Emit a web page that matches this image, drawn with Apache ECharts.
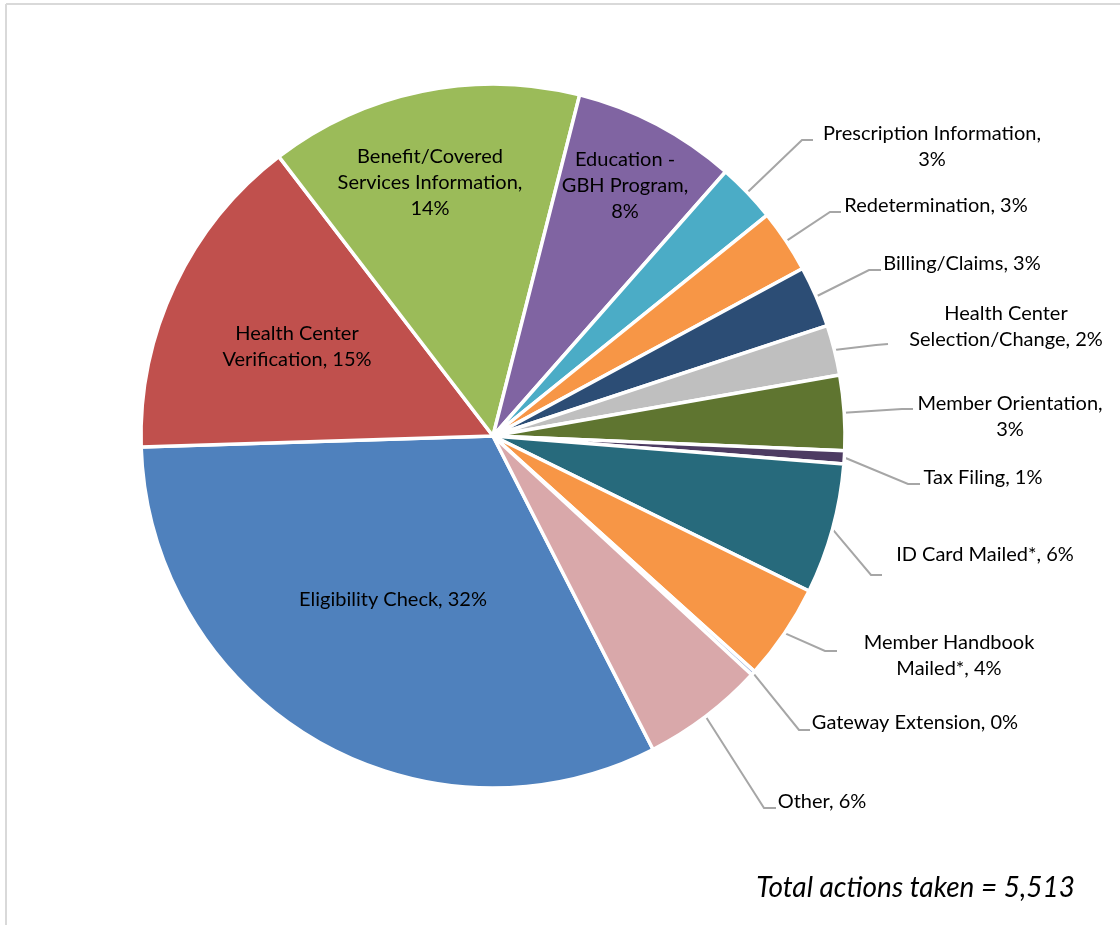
<!DOCTYPE html>
<html>
<head>
<meta charset="utf-8">
<script src="https://cdn.jsdelivr.net/npm/echarts@6/dist/echarts.min.js"></script>
<style>
html,body{margin:0;padding:0;background:#fff;}
#chart{width:1120px;height:925px;}
</style>
</head>
<body>
<div id="chart"></div>
<script>
// ---- data (clockwise order as drawn) ----
const categories = [
  'Eligibility Check',
  'Health Center Verification',
  'Benefit/Covered Services Information',
  'Education - GBH Program',
  'Prescription Information',
  'Redetermination',
  'Billing/Claims',
  'Health Center Selection/Change',
  'Member Orientation',
  'Tax Filing',
  'ID Card Mailed*',
  'Member Handbook Mailed*',
  'Gateway Extension',
  'Other'
];
const actionCounts = [1765, 832, 792, 415, 150, 160, 155, 127, 190, 33, 330, 243, 11, 310];
const totalLabelPrefix = 'Total actions taken = ';

// ---- styling / layout (not data) ----
const colors = ['#4F81BD','#C0504D','#9BBB59','#8064A2','#4BACC6','#F79646','#2C4D75',
  '#BFBFBF','#5F7530','#4D3B62','#276A7C','#F79646','#A7B9DD','#D9A8AA'];
// label text wrapping templates: {n}=name, {p}=percent
const labelWrap = [
  '{n}, {p}',
  'Health Center\nVerification, {p}',
  'Benefit/Covered\nServices Information,\n{p}',
  'Education -\nGBH Program,\n{p}',
  '{n},\n{p}',
  '{n}, {p}',
  '{n}, {p}',
  'Health Center\nSelection/Change, {p}',
  '{n},\n{p}',
  '{n}, {p}',
  '{n}, {p}',
  'Member Handbook\nMailed*, {p}',
  '{n}, {p}',
  '{n}, {p}'
];
const insideIdx = [0,1,2,3];
// label anchor (center of text block) and leader line elbow/end, in px
const labelPos = [
  {x:393, y:600},
  {x:297, y:347},
  {x:430, y:183},
  {x:625, y:186},
  {x:932, y:147, e:[802,140], f:[813,140]},
  {x:936, y:206, e:[830,212], f:[841,212]},
  {x:962, y:264, e:[869,270], f:[881,270]},
  {x:1006, y:327, e:[876,345], f:[888,344]},
  {x:1010, y:417, e:[902,409], f:[913,409]},
  {x:983, y:478, e:[908,484], f:[920,484]},
  {x:985, y:555, e:[871,575], f:[882,575]},
  {x:949, y:656, e:[825,651], f:[837,651]},
  {x:915, y:723, e:[799,730], f:[810,730]},
  {x:822, y:802, e:[764,808], f:[776,808]}
];

const total = actionCounts.reduce((a,b)=>a+b,0);
const FONT = 'Lato, "Liberation Sans", sans-serif';

const pieData = categories.map((name,i)=>({
  name: name,
  value: actionCounts[i],
  itemStyle: {color: colors[i]},
  labelLine: {show: insideIdx.indexOf(i) < 0}
}));

// start angle so that first slice begins where drawn (degrees, ECharts convention)
const startDeg = -62.95;

const chart = echarts.init(document.getElementById('chart'), null, {renderer:'canvas'});
chart.setOption({
  backgroundColor: '#ffffff',
  animation: false,
  series: [{
    type: 'pie',
    center: [493, 436],
    radius: [0, 352],
    startAngle: startDeg,
    clockwise: true,
    avoidLabelOverlap: false,
    data: pieData,
    itemStyle: {borderColor: '#ffffff', borderWidth: 3.5},
    label: {
      show: true,
      position: 'outside',
      fontFamily: FONT,
      fontSize: 20,
      lineHeight: 26,
      color: '#000000',
      align: 'center',
      formatter: function(p){
        const pct = Math.round(p.value / total * 100) + '%';
        return labelWrap[p.dataIndex].replace('{n}', p.name).replace('{p}', pct);
      }
    },
    labelLine: {
      show: true,
      length: 20,
      length2: 10,
      lineStyle: {color: '#A6A6A6', width: 2}
    },
    labelLayout: function(params){
      const i = params.dataIndex;
      const lp = labelPos[i];
      const res = {x: lp.x, y: lp.y, align: 'center', verticalAlign: 'middle'};
      if (lp.e && params.labelLinePoints) {
        const s = params.labelLinePoints[0];
        res.labelLinePoints = [[s[0], s[1]], lp.e, lp.f];
      }
      return res;
    },
    emphasis: {disabled: true}
  }],
  graphic: [
    {type:'line', shape:{x1:6, y1:4, x2:6, y2:925}, style:{stroke:'#D9D9D9', lineWidth:2}},
    {type:'line', shape:{x1:6, y1:4, x2:1120, y2:4}, style:{stroke:'#D9D9D9', lineWidth:2}},
    {type:'text', x: 1075, y: 888, style:{
      text: totalLabelPrefix + total.toLocaleString('en-US'),
      font: 'italic 28px ' + FONT, fill:'#000000',
      align: 'right', verticalAlign: 'middle'
    }}
  ]
});
</script>
</body>
</html>
